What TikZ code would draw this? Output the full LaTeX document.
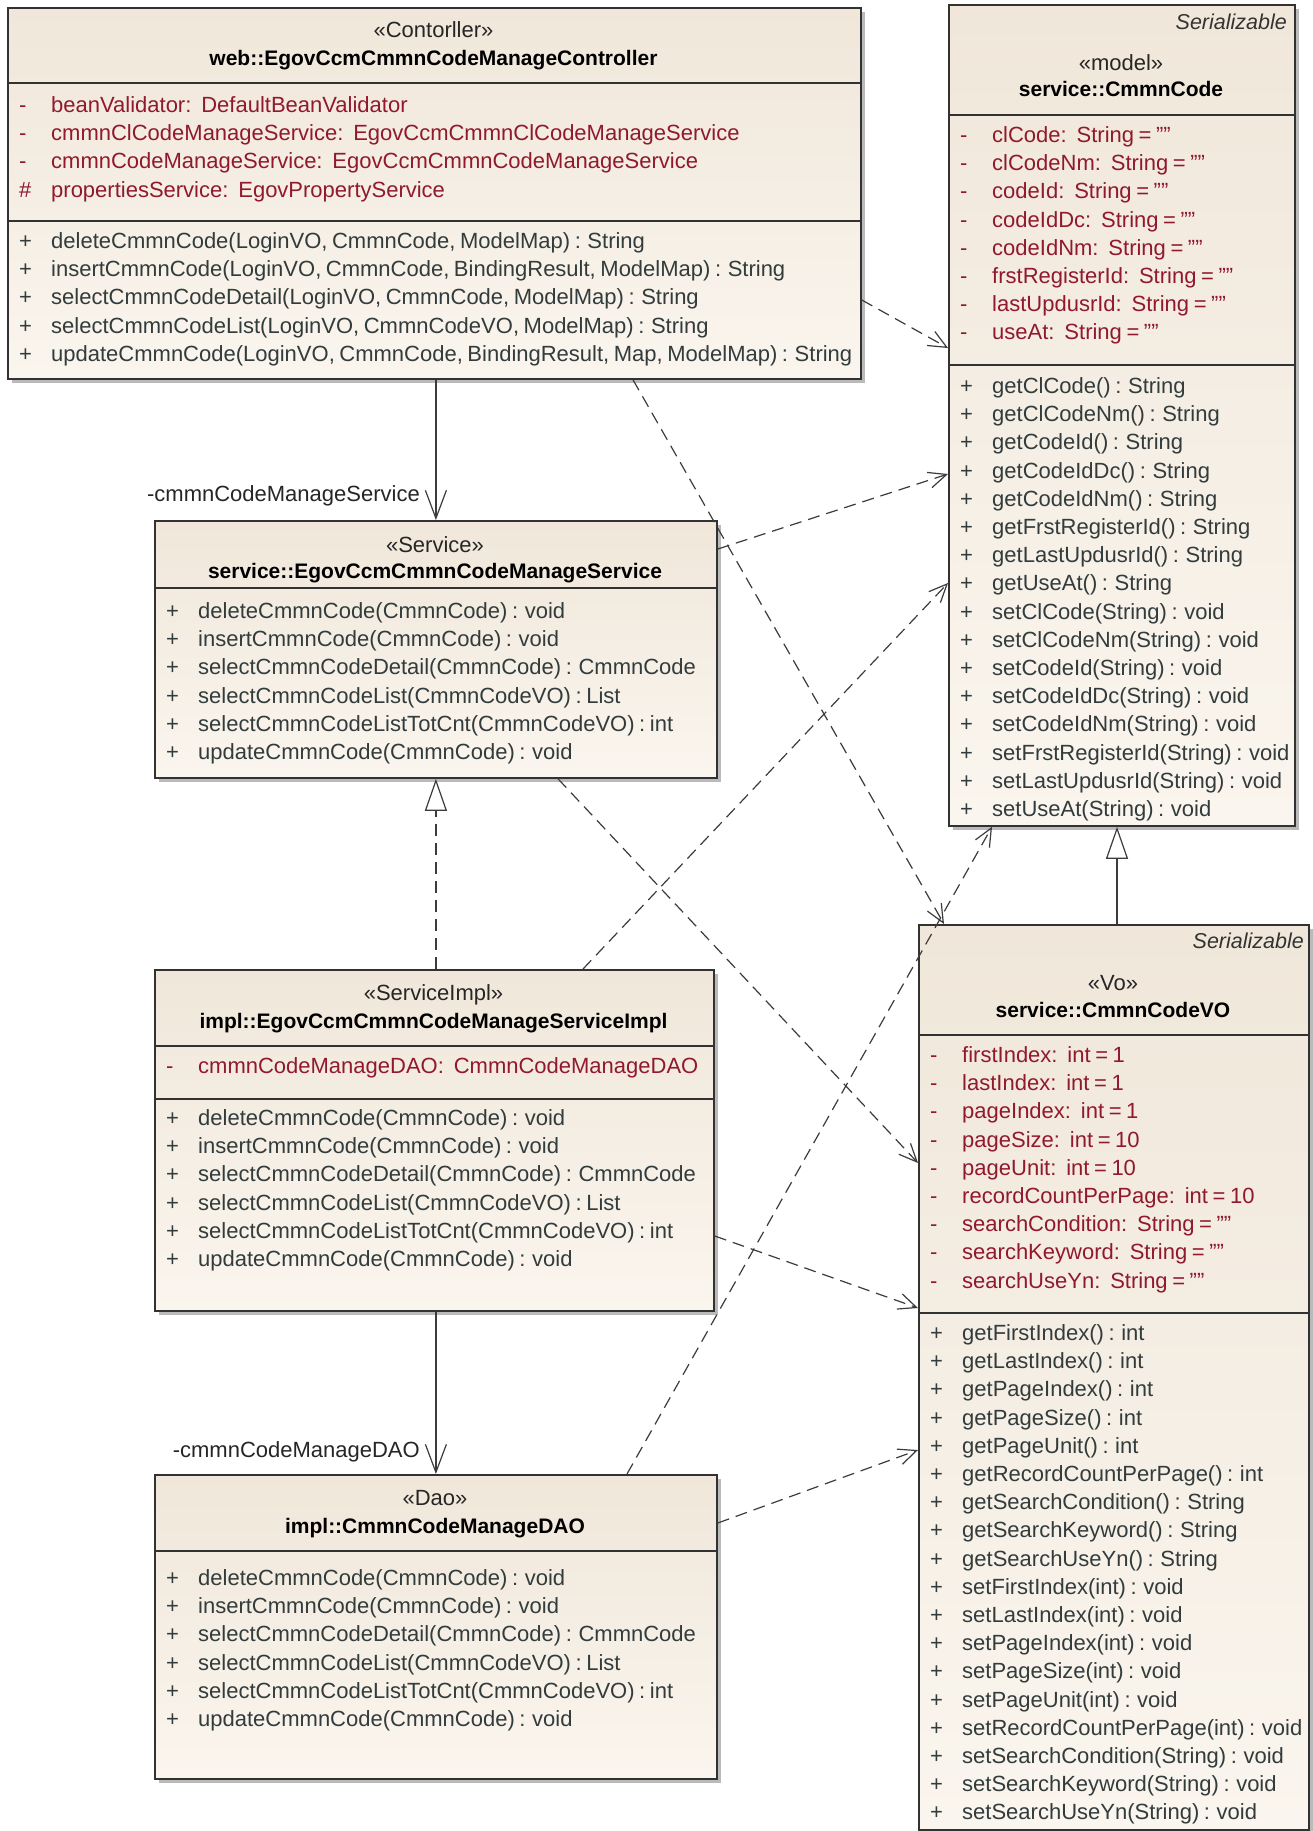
\documentclass[tikz,border=0pt]{standalone}
\usepackage{fontspec}
\setmainfont{Liberation Sans}[WordSpace=0.75]
\usetikzlibrary{arrows.meta,shadows,calc}
\definecolor{attrc}{RGB}{145,25,45}
\definecolor{methc}{RGB}{50,60,60}
\definecolor{bordc}{RGB}{50,50,50}
\definecolor{filltop}{RGB}{240,231,218}
\definecolor{fillbot}{RGB}{250,245,238}
\definecolor{linec}{RGB}{60,60,60}
\newcommand\tsp{\hspace{0.45em}}
\newcommand\qq{\char"22\char"22}
\newcommand\classrows[5]{%
  \foreach \m/\t [count=\i] in {#5} {
    \node[#2] (#1m\i) at ({#3+12},{#4+(\i-1)*28.2}) {\m};
    \node[#2] (#1t\i) at ({#3+44},{#4+(\i-1)*28.2}) {\t};
  }}
\tikzset{
  classbox/.style={draw=bordc, line width=1.8pt, rectangle, inner sep=0pt, anchor=north west,
    top color=filltop, bottom color=fillbot,
    drop shadow={shadow xshift=4pt, shadow yshift=-4pt, opacity=0.45, fill=black!60}},
  txt/.style={inner sep=0pt, text height=15.5pt, text depth=4.5pt, font=\fontsize{22}{26}\selectfont},
  attr/.style={txt, text=attrc, anchor=west},
  meth/.style={txt, text=methc, anchor=west},
  stereo/.style={txt, text=black!85},
  cname/.style={txt, text=black, font=\fontsize{21}{26}\selectfont\bfseries},
  serial/.style={txt, text=black!80, anchor=east, font=\fontsize{21.5}{26}\selectfont\itshape},
  rolelbl/.style={txt, text=black!85, anchor=east},
  sepline/.style={draw=bordc, line width=1.5pt},
  dep/.style={draw=linec, line width=1.2pt, dash pattern=on 12pt off 7pt, -{Straight Barb[length=18pt,width=16pt]}},
  assoc/.style={draw=linec, line width=1.2pt, -{Straight Barb[length=28pt,width=21pt]}},
  gen/.style={draw=linec, line width=1.2pt, -{Triangle[open,length=32pt,width=22pt,fill=white]}},
  real/.style={gen, dash pattern=on 12pt off 7pt},
}
\begin{document}
\begin{tikzpicture}[x=1pt, y=-1pt]
\fill[white] (0,0) rectangle (1313,1831);
\useasboundingbox (0,0) rectangle (1313,1831);

% ---------- Controller ----------
\node[classbox, minimum width=853pt, minimum height=371pt] (ctrl) at (7,7) {};
\draw[sepline] (ctrl.west |- 0,83) -- (ctrl.east |- 0,83);
\draw[sepline] (ctrl.west |- 0,221) -- (ctrl.east |- 0,221);
\node[stereo] (ctrlst) at (433.5,32) {«Contorller»};
\node[cname] (ctrlnm) at (433.5,60) {web::EgovCcmCmmnCodeManageController};
\classrows{ctrlA}{attr}{7}{107}{-/{beanValidator:\tsp DefaultBeanValidator},
  -/{cmmnClCodeManageService:\tsp EgovCcmCmmnClCodeManageService},
  -/{cmmnCodeManageService:\tsp EgovCcmCmmnCodeManageService},
  \#/{propertiesService:\tsp EgovPropertyService}}
\classrows{ctrlM}{meth}{7}{243}{+/{deleteCmmnCode(LoginVO, CmmnCode, ModelMap) : String},
  +/{insertCmmnCode(LoginVO, CmmnCode, BindingResult, ModelMap) : String},
  +/{selectCmmnCodeDetail(LoginVO, CmmnCode, ModelMap) : String},
  +/{selectCmmnCodeList(LoginVO, CmmnCodeVO, ModelMap) : String},
  +/{updateCmmnCode(LoginVO, CmmnCode, BindingResult, Map, ModelMap) : String}}

% ---------- CmmnCode ----------
\node[classbox, minimum width=346pt, minimum height=821pt] (code) at (948,4) {};
\draw[sepline] (code.west |- 0,115) -- (code.east |- 0,115);
\draw[sepline] (code.west |- 0,365) -- (code.east |- 0,365);
\node[serial] (codeser) at (1287,24) {Serializable};
\node[stereo] (codest) at (1121,65) {«model»};
\node[cname] (codenm) at (1121,91) {service::CmmnCode};
\classrows{codeA}{attr}{948}{137}{-/{clCode:\tsp String = \qq},
  -/{clCodeNm:\tsp String = \qq},
  -/{codeId:\tsp String = \qq},
  -/{codeIdDc:\tsp String = \qq},
  -/{codeIdNm:\tsp String = \qq},
  -/{frstRegisterId:\tsp String = \qq},
  -/{lastUpdusrId:\tsp String = \qq},
  -/{useAt:\tsp String = \qq}}
\classrows{codeM}{meth}{948}{388}{+/{getClCode() : String},
  +/{getClCodeNm() : String},
  +/{getCodeId() : String},
  +/{getCodeIdDc() : String},
  +/{getCodeIdNm() : String},
  +/{getFrstRegisterId() : String},
  +/{getLastUpdusrId() : String},
  +/{getUseAt() : String},
  +/{setClCode(String) : void},
  +/{setClCodeNm(String) : void},
  +/{setCodeId(String) : void},
  +/{setCodeIdDc(String) : void},
  +/{setCodeIdNm(String) : void},
  +/{setFrstRegisterId(String) : void},
  +/{setLastUpdusrId(String) : void},
  +/{setUseAt(String) : void}}

% ---------- Service ----------
\node[classbox, minimum width=562pt, minimum height=257pt] (svc) at (154,520) {};
\draw[sepline] (svc.west |- 0,588) -- (svc.east |- 0,588);
\node[stereo] (svcst) at (435,547) {«Service»};
\node[cname] (svcnm) at (435,573) {service::EgovCcmCmmnCodeManageService};
\classrows{svcM}{meth}{154}{613}{+/{deleteCmmnCode(CmmnCode) : void},
  +/{insertCmmnCode(CmmnCode) : void},
  +/{selectCmmnCodeDetail(CmmnCode) : CmmnCode},
  +/{selectCmmnCodeList(CmmnCodeVO) : List},
  +/{selectCmmnCodeListTotCnt(CmmnCodeVO) : int},
  +/{updateCmmnCode(CmmnCode) : void}}

% ---------- ServiceImpl ----------
\node[classbox, minimum width=559pt, minimum height=341pt] (impl) at (154,969) {};
\draw[sepline] (impl.west |- 0,1046) -- (impl.east |- 0,1046);
\draw[sepline] (impl.west |- 0,1099) -- (impl.east |- 0,1099);
\node[stereo] (implst) at (433.5,995) {«ServiceImpl»};
\node[cname] (implnm) at (433.5,1023) {impl::EgovCcmCmmnCodeManageServiceImpl};
\classrows{implA}{attr}{154}{1068}{-/{cmmnCodeManageDAO:\tsp CmmnCodeManageDAO}}
\classrows{implM}{meth}{154}{1120}{+/{deleteCmmnCode(CmmnCode) : void},
  +/{insertCmmnCode(CmmnCode) : void},
  +/{selectCmmnCodeDetail(CmmnCode) : CmmnCode},
  +/{selectCmmnCodeList(CmmnCodeVO) : List},
  +/{selectCmmnCodeListTotCnt(CmmnCodeVO) : int},
  +/{updateCmmnCode(CmmnCode) : void}}

% ---------- DAO ----------
\node[classbox, minimum width=562pt, minimum height=304pt] (dao) at (154,1474) {};
\draw[sepline] (dao.west |- 0,1551) -- (dao.east |- 0,1551);
\node[stereo] (daost) at (435,1500) {«Dao»};
\node[cname] (daonm) at (435,1528) {impl::CmmnCodeManageDAO};
\classrows{daoM}{meth}{154}{1580}{+/{deleteCmmnCode(CmmnCode) : void},
  +/{insertCmmnCode(CmmnCode) : void},
  +/{selectCmmnCodeDetail(CmmnCode) : CmmnCode},
  +/{selectCmmnCodeList(CmmnCodeVO) : List},
  +/{selectCmmnCodeListTotCnt(CmmnCodeVO) : int},
  +/{updateCmmnCode(CmmnCode) : void}}

% ---------- CmmnCodeVO ----------
\node[classbox, minimum width=390pt, minimum height=905pt] (vo) at (918,924) {};
\draw[sepline] (vo.west |- 0,1035) -- (vo.east |- 0,1035);
\draw[sepline] (vo.west |- 0,1313) -- (vo.east |- 0,1313);
\node[serial] (voser) at (1304,943) {Serializable};
\node[stereo] (vost) at (1113,985) {«Vo»};
\node[cname] (vonm) at (1113,1012) {service::CmmnCodeVO};
\classrows{voA}{attr}{918}{1057}{-/{firstIndex:\tsp int = 1},
  -/{lastIndex:\tsp int = 1},
  -/{pageIndex:\tsp int = 1},
  -/{pageSize:\tsp int = 10},
  -/{pageUnit:\tsp int = 10},
  -/{recordCountPerPage:\tsp int = 10},
  -/{searchCondition:\tsp String = \qq},
  -/{searchKeyword:\tsp String = \qq},
  -/{searchUseYn:\tsp String = \qq}}
\classrows{voM}{meth}{918}{1335}{+/{getFirstIndex() : int},
  +/{getLastIndex() : int},
  +/{getPageIndex() : int},
  +/{getPageSize() : int},
  +/{getPageUnit() : int},
  +/{getRecordCountPerPage() : int},
  +/{getSearchCondition() : String},
  +/{getSearchKeyword() : String},
  +/{getSearchUseYn() : String},
  +/{setFirstIndex(int) : void},
  +/{setLastIndex(int) : void},
  +/{setPageIndex(int) : void},
  +/{setPageSize(int) : void},
  +/{setPageUnit(int) : void},
  +/{setRecordCountPerPage(int) : void},
  +/{setSearchCondition(String) : void},
  +/{setSearchKeyword(String) : void},
  +/{setSearchUseYn(String) : void}}

% ---------- connectors ----------
\draw[assoc] (svc.north |- ctrl.south) -- (svc.north);
\node[rolelbl] (lblsvc) at (420,496) {-cmmnCodeManageService};
\draw[real] (svc.south |- impl.north) -- (svc.south);
\draw[assoc] (dao.north |- impl.south) -- (dao.north);
\node[rolelbl] (lbldao) at (420,1452) {-cmmnCodeManageDAO};
\draw[gen] (vo.north -| 1117,0) -- (code.south -| 1117,0);

\draw[dep] (ctrl.east |- 0,300) -- (code.west |- 0,348);
\draw[dep] (svc.east |- 0,549) -- (code.west |- 0,474);
\draw[dep] (impl.north -| 583,0) -- (code.west |- 0,583);
\draw[dep] (dao.north -| 627,0) -- (code.south -| 992,0);
\draw[dep] (ctrl.south -| 633,0) -- (vo.north -| 944,0);
\draw[dep] (svc.south -| 558,0) -- (vo.west |- 0,1163);
\draw[dep] (impl.east |- 0,1236) -- (vo.west |- 0,1308);
\draw[dep] (dao.east |- 0,1523) -- (vo.west |- 0,1450);
\end{tikzpicture}
\end{document}
